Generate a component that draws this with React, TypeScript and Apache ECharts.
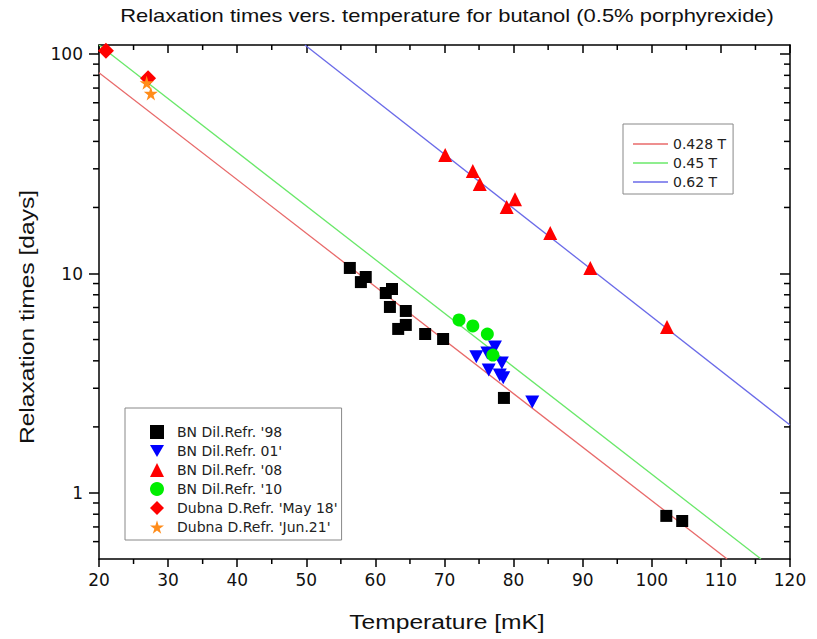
import React, { useEffect, useRef } from "react";
import * as echarts from "echarts";

const FONT = "'Liberation Sans', Arial, sans-serif";
const FONT_W = "'DejaVu Sans', 'Liberation Sans', sans-serif";

// Temperature [mK], relaxation time [days]
const bn98 = [
  [56.3, 10.6], [57.9, 9.14], [58.6, 9.64], [61.5, 8.15], [62.4, 8.5],
  [62.1, 7.04], [64.4, 6.75], [63.3, 5.59], [64.4, 5.83], [67.2, 5.3],
  [69.8, 5.03], [78.6, 2.71], [102.1, 0.786], [104.4, 0.745],
];
const bn01 = [
  [74.6, 4.17], [77.3, 4.63], [76.2, 4.34], [78.3, 3.91], [76.4, 3.63],
  [78.0, 3.45], [78.5, 3.35], [82.7, 2.6],
];
const bn08 = [
  [70.1, 34.7], [74.1, 29.3], [75.1, 25.6], [80.2, 21.8], [79.0, 20.1],
  [85.3, 15.3], [91.1, 10.6], [102.2, 5.71],
];
const bn10 = [[72.1, 6.14], [74.1, 5.77], [76.2, 5.3], [77.0, 4.25]];
const dubnaMay18 = [[21.0, 103.5], [27.1, 77.5]];
const dubnaJun21 = [[26.9, 74], [27.5, 66.2]];

// fitted lines (endpoints)
const fit0428 = [[20, 82.2], [110.9, 0.5]];
const fit045 = [[20, 110], [115.8, 0.5]];
const fit062 = [[49.8, 110], [120, 2.04]];

const xTicks = { min: 20, max: 120, interval: 10 };
const xMinor = [25, 35, 45, 55, 65, 75, 85, 95, 105, 115];
const yRange = { min: 0.5, max: 110 };
const yMajor = [1, 10, 100];
const yMinor = [0.6, 0.7, 0.8, 0.9, 2, 3, 4, 5, 6, 7, 8, 9, 20, 30, 40, 50, 60, 70, 80, 90];

const lineNames = ["0.428 T", "0.45 T", "0.62 T"];
const pointNames = [
  "BN Dil.Refr. '98",
  "BN Dil.Refr. 01'",
  "BN Dil.Refr. '08",
  "BN Dil.Refr. '10",
  "Dubna D.Refr. 'May 18'",
  "Dubna D.Refr. 'Jun.21'",
];

const STAR =
  "path://M50,0 L61,35 L98,35 L68,57 L79,91 L50,70 L21,91 L32,57 L2,35 L39,35 Z";
const TRI_DOWN = "path://M0,0 L100,0 L50,87 Z";
const LINE_ICON = "path://M0,0 L70,0 L70,3 L0,3 Z";

export default function App() {
  const ref = useRef<HTMLDivElement>(null);
  useEffect(() => {
    if (!ref.current) return;
    const chart = echarts.init(ref.current, null, { renderer: "svg" });
    const black = "#000";
    const tickStyle = { color: black, width: 1.5 };
    const yBase = {
      type: "log",
      min: yRange.min,
      max: yRange.max,
      splitLine: { show: false },
      axisLine: { show: true, onZero: false, lineStyle: tickStyle },
    };
    const xBase = {
      type: "value",
      min: xTicks.min,
      max: xTicks.max,
      interval: xTicks.interval,
      splitLine: { show: false },
      axisLine: { show: true, onZero: false, lineStyle: tickStyle },
    };
    const titles = [
      {
        type: "text",
        x: 447,
        y: 16,
        scaleX: 1.22,
        style: {
          text: "Relaxation times vers. temperature for butanol (0.5% porphyrexide)",
          fontSize: 18,
          fontFamily: FONT,
          fill: "#111",
          align: "center",
          verticalAlign: "middle",
        },
      },
      {
        type: "text",
        x: 447,
        y: 622,
        scaleX: 1.23,
        style: {
          text: "Temperature [mK]",
          fontSize: 20,
          fontFamily: FONT,
          fill: "#111",
          align: "center",
          verticalAlign: "middle",
        },
      },
      {
        type: "text",
        x: 27,
        y: 317,
        rotation: Math.PI / 2,
        scaleX: 1.23,
        style: {
          text: "Relaxation times [days]",
          fontSize: 20,
          fontFamily: FONT,
          fill: "#111",
          align: "center",
          verticalAlign: "middle",
        },
      },
    ];
    chart.setOption({
      animation: false,
      backgroundColor: "#fff",
      grid: { left: 99, right: 27, top: 45, bottom: 80, containLabel: false },
      xAxis: [
        {
          ...xBase,
          position: "bottom",
          axisTick: { show: true, inside: false, length: 8, lineStyle: tickStyle },
          axisLabel: { fontSize: 17, color: "#111", margin: 12, fontFamily: FONT_W },
        },
        {
          ...xBase,
          position: "top",
          axisTick: { show: true, inside: true, length: 8, lineStyle: tickStyle },
          axisLabel: { show: false },
        },
      ],
      yAxis: [
        {
          ...yBase,
          position: "left",
          axisTick: { show: true, inside: false, length: 10, customValues: yMajor, lineStyle: tickStyle },
          axisLabel: { customValues: yMajor, fontSize: 17, color: "#111", margin: 16, fontFamily: FONT_W },
        },
        {
          ...yBase,
          position: "right",
          axisTick: { show: true, inside: true, length: 10, customValues: yMajor, lineStyle: tickStyle },
          axisLabel: { show: false },
        },
      ],
      legend: [
        {
          orient: "vertical",
          left: 623,
          top: 124,
          itemWidth: 35,
          itemHeight: 14,
          itemGap: 5,
          padding: [13, 7, 5, 10],
          borderColor: "#888",
          borderWidth: 1,
          borderRadius: 0,
          textStyle: { fontSize: 14, lineHeight: 14, color: "#222", fontFamily: FONT_W },
          data: lineNames.map((n) => ({ name: n, icon: LINE_ICON })),
        },
        {
          orient: "vertical",
          left: 125,
          top: 408,
          itemWidth: 14,
          itemHeight: 14,
          itemGap: 5,
          padding: [17, 4, 6, 25],
          borderColor: "#888",
          borderWidth: 1,
          borderRadius: 0,
          textStyle: { fontSize: 14, lineHeight: 14, color: "#222", fontFamily: FONT_W, padding: [0, 0, 0, 8] },
          data: pointNames,
        },
      ],
      graphic: titles,
      series: [
        { name: lineNames[0], type: "line", data: fit0428, symbol: "none", lineStyle: { color: "#e86a6a", width: 1.3 }, itemStyle: { color: "#e86a6a" }, z: 1 },
        { name: lineNames[1], type: "line", data: fit045, symbol: "none", lineStyle: { color: "#6ae86a", width: 1.3 }, itemStyle: { color: "#6ae86a" }, z: 1 },
        { name: lineNames[2], type: "line", data: fit062, symbol: "none", lineStyle: { color: "#6a6ae8", width: 1.3 }, itemStyle: { color: "#6a6ae8" }, z: 1 },
        { name: pointNames[0], type: "scatter", data: bn98, symbol: "rect", symbolSize: 12, itemStyle: { color: "#000", opacity: 1 }, z: 3 },
        { name: pointNames[1], type: "scatter", data: bn01, symbol: TRI_DOWN, symbolSize: [14, 13], itemStyle: { color: "#0000ff", opacity: 1 }, z: 3 },
        { name: pointNames[2], type: "scatter", data: bn08, symbol: "triangle", symbolSize: 14, itemStyle: { color: "#ff0000", opacity: 1 }, z: 3 },
        { name: pointNames[3], type: "scatter", data: bn10, symbol: "circle", symbolSize: 13, itemStyle: { color: "#00ee00", opacity: 1 }, z: 3 },
        { name: pointNames[4], type: "scatter", data: dubnaMay18, symbol: "diamond", symbolSize: 16, itemStyle: { color: "#ff0000", opacity: 1 }, z: 3 },
        { name: pointNames[5], type: "scatter", data: dubnaJun21, symbol: STAR, symbolSize: 14, itemStyle: { color: "#ff8c1a", opacity: 1 }, z: 4 },
      ],
    });

    // minor ticks placed through the chart's own scales
    const finder = { xAxisIndex: 0, yAxisIndex: 0 };
    const ticks: any[] = [];
    const tick = (x1: number, y1: number, x2: number, y2: number) =>
      ticks.push({
        type: "line",
        silent: true,
        z: 10,
        shape: { x1, y1, x2, y2 },
        style: { stroke: black, lineWidth: 1.5 },
      });
    yMinor.forEach((v) => {
      const l = chart.convertToPixel(finder, [xTicks.min, v]) as number[];
      const r = chart.convertToPixel(finder, [xTicks.max, v]) as number[];
      if (l && isFinite(l[1])) tick(l[0] - 6, l[1], l[0], l[1]);
      if (r && isFinite(r[1])) tick(r[0], r[1], r[0] - 6, r[1]);
    });
    xMinor.forEach((v) => {
      const b = chart.convertToPixel(finder, [v, yRange.min]) as number[];
      const t = chart.convertToPixel(finder, [v, yRange.max]) as number[];
      if (b && isFinite(b[0])) tick(b[0], b[1], b[0], b[1] + 5);
      if (t && isFinite(t[0])) tick(t[0], t[1], t[0], t[1] + 5);
    });
    chart.setOption({ graphic: [...titles, ...ticks] });

    return () => chart.dispose();
  }, []);
  return (
    <div
      ref={ref}
      style={{ position: "fixed", left: 0, top: 0, width: 817, height: 639 }}
    />
  );
}
